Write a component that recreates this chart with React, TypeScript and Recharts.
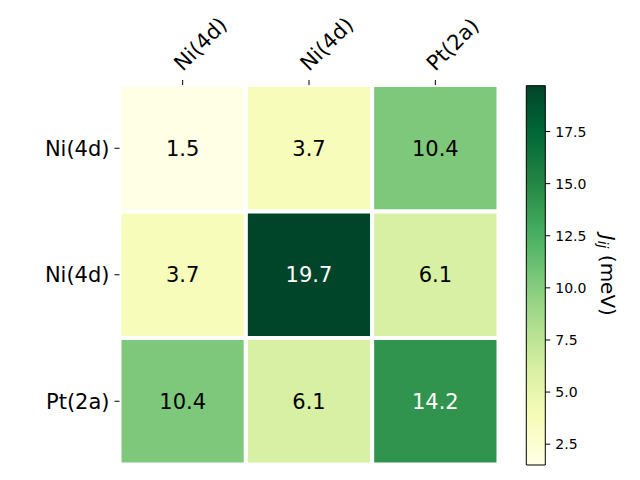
import { ComposedChart, XAxis, YAxis, ReferenceArea, Label, Scatter } from "recharts";

// heatmap of exchange couplings J_ij (meV)
const siteLabels = ["Ni(4d)", "Ni(4d)", "Pt(2a)"];
const rowNi1 = [1.5, 3.7, 10.4];
const rowNi2 = [3.7, 19.7, 6.1];
const rowPt = [10.4, 6.1, 14.2];
const cellTicks = [0.5, 1.5, 2.5];
const cbarTicks = [2.5, 5, 7.5, 10, 12.5, 15, 17.5];
const vmin = 1.5;
const vmax = 19.7;

const grid = [rowNi1, rowNi2, rowPt];
const cells = grid.flatMap((row, r) => row.map((v, c) => ({ x: c + 0.5, y: r + 0.5, r, c, v })));
const cbarData = [{ x: 0.5, v: vmin }, { x: 0.5, v: vmax }];

// matplotlib YlGn stops
const ylgn = ["#ffffe5", "#f7fcb9", "#d9f0a3", "#addd8e", "#78c679", "#41ab5d", "#238443", "#006837", "#004529"];

const hex = (c: string) => [1, 3, 5].map(i => parseInt(c.slice(i, i + 2), 16));
function cmap(v: number) {
  const t = Math.min(1, Math.max(0, (v - vmin) / (vmax - vmin)));
  const pos = t * (ylgn.length - 1);
  const i = Math.min(ylgn.length - 2, Math.floor(pos));
  const f = pos - i;
  const a = hex(ylgn[i]), b = hex(ylgn[i + 1]);
  const m = a.map((x, k) => Math.round(x + (b[k] - x) * f));
  return `rgb(${m[0]},${m[1]},${m[2]})`;
}

const FONT = "DejaVu Sans";

const TopTick = (props: any) => {
  const { x, y, payload } = props;
  const name = siteLabels[Math.floor(payload.value)];
  return (
    <text x={x} y={y} transform={`rotate(-45 ${x} ${y})`} textAnchor="start" fontSize={21} fill="#000" fontFamily={FONT}>
      {name}
    </text>
  );
};

const CbarLabel = (props: any) => {
  const vb = props.viewBox || {};
  const cx = vb.x + vb.width + 9;
  const cy = vb.y + vb.height / 2;
  return (
    <text x={cx} y={cy} transform={`rotate(90 ${cx} ${cy})`} textAnchor="middle" dominantBaseline="central" fontSize={20} fill="#000" fontFamily={FONT}>
      <tspan fontStyle="italic">J</tspan>
      <tspan fontStyle="italic" fontSize={14} dy={5}>ij</tspan>
      <tspan dy={-5}> (meV)</tspan>
    </text>
  );
};

const NoDot = () => <g />;

export default function App() {
  return (
    <div style={{ position: "absolute", left: 0, top: 0, width: 640, height: 480, background: "#fff", fontFamily: FONT }}>
      <div style={{ position: "absolute", left: 0, top: 0 }}>
        <ComposedChart width={640} height={480} data={cells} margin={{ top: 55, right: 141.5, bottom: 15.5, left: 0 }}>
          <XAxis type="number" dataKey="x" xAxisId={0} orientation="top" domain={[0, 3]} ticks={cellTicks}
            axisLine={false} tickSize={5} tickMargin={8} tickLine={{ stroke: "#000" }} height={30}
            tick={<TopTick />} interval={0} allowDataOverflow />
          <YAxis type="number" dataKey="y" yAxisId={0} domain={[0, 3]} reversed ticks={cellTicks} width={119.5}
            axisLine={false} tickSize={5} tickMargin={5} tickLine={{ stroke: "#000" }} interval={0}
            tick={{ fill: "#000", fontSize: 21, fontFamily: FONT }} allowDataOverflow
            tickFormatter={(v: number) => siteLabels[Math.floor(v)]} />
          {grid.flatMap((row, r) =>
            row.map((v, c) => (
              <ReferenceArea key={`${r}-${c}`} x1={c} x2={c + 1} y1={r} y2={r + 1}
                fill={cmap(v)} fillOpacity={1} stroke="#fff" strokeWidth={4} ifOverflow="visible"
                label={{ value: v.toFixed(1), position: "center", fill: v > 12 ? "#fff" : "#000", fontSize: 21, fontFamily: FONT }} />
            ))
          )}
          <Scatter data={cells} dataKey="y" shape={<NoDot />} isAnimationActive={false} />
        </ComposedChart>
      </div>
      <div style={{ position: "absolute", left: 0, top: 0 }}>
        <ComposedChart width={640} height={480} data={cbarData} margin={{ top: 85.7, right: 40.7, bottom: 15, left: 526.3 }}>
          <defs>
            <linearGradient id="ylgnBar" x1="0" y1="1" x2="0" y2="0">
              {ylgn.map((c, i) => <stop key={i} offset={i / (ylgn.length - 1)} stopColor={c} />)}
            </linearGradient>
          </defs>
          <XAxis type="number" dataKey="x" xAxisId={0} domain={[0, 1]} hide />
          <YAxis type="number" dataKey="v" yAxisId={0} orientation="right" domain={[vmin, vmax]} ticks={cbarTicks} width={54}
            axisLine={false} tickSize={5} tickMargin={5} tickLine={{ stroke: "#000" }} interval={0} allowDataOverflow
            tick={{ fill: "#000", fontSize: 14, fontFamily: FONT }}
            tickFormatter={(v: number) => v.toFixed(1)}>
            <Label content={<CbarLabel />} />
          </YAxis>
          <ReferenceArea x1={0} x2={1} y1={vmin} y2={vmax} fill="url(#ylgnBar)" fillOpacity={1} stroke="#000" strokeWidth={1} ifOverflow="visible" />
          <Scatter data={cbarData} dataKey="v" shape={<NoDot />} isAnimationActive={false} />
        </ComposedChart>
      </div>
    </div>
  );
}
